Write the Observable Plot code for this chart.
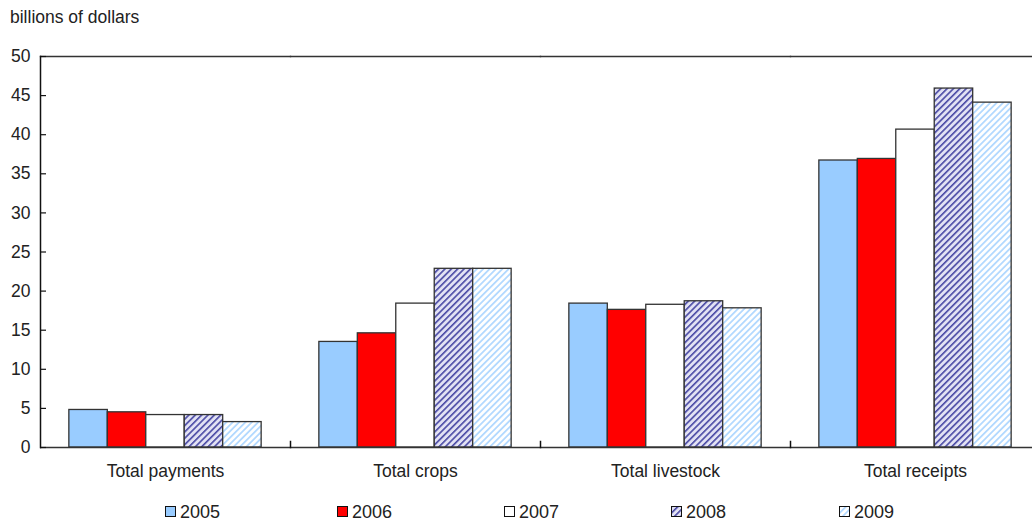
<!DOCTYPE html>
<html>
<head>
<meta charset="utf-8">
<script src="https://cdn.jsdelivr.net/npm/d3@7"></script>
<script src="https://cdn.jsdelivr.net/npm/@observablehq/plot@0.6"></script>
<style>
  html, body { margin: 0; padding: 0; background: #fff; }
  body { width: 1032px; height: 520px; overflow: hidden; font-family: "Liberation Sans", Arial, sans-serif; color: #222; }
  #title { height: 30px; box-sizing: border-box; padding: 7px 0 0 10px; font-size: 17.5px; line-height: 20px; }
  #legend { position: relative; height: 25px; font-size: 18px; }
  .item { position: absolute; top: 10px; height: 14px; display: flex; align-items: center; line-height: 14px; }
  .item svg { margin-right: 3px; }
</style>
</head>
<body>
<svg width="0" height="0" style="position:absolute">
  <defs>
    <pattern id="h2008" patternUnits="userSpaceOnUse" width="4.5" height="4.5" patternTransform="rotate(45)">
      <rect width="4.5" height="4.5" fill="#e2e2f4"></rect>
      <rect width="1.6" height="4.5" fill="#4848a4"></rect>
    </pattern>
    <pattern id="h2009" patternUnits="userSpaceOnUse" width="4.5" height="4.5" patternTransform="rotate(45)">
      <rect width="4.5" height="4.5" fill="#ffffff"></rect>
      <rect width="1.8" height="4.5" fill="#b3d9ff"></rect>
    </pattern>
  </defs>
</svg>
<div id="title">billions of dollars</div>
<div id="chart"></div>
<div id="legend"></div>
<script>
const categories = ["Total payments", "Total crops", "Total livestock", "Total receipts"];
const years = ["2005", "2006", "2007", "2008", "2009"];
const v2005 = [4.8, 13.5, 18.4, 36.7];
const v2006 = [4.5, 14.6, 17.6, 36.9];
const v2007 = [4.15, 18.4, 18.25, 40.65];
const v2008 = [4.15, 22.85, 18.7, 45.9];
const v2009 = [3.25, 22.85, 17.8, 44.1];
const yTicks = [0, 5, 10, 15, 20, 25, 30, 35, 40, 45, 50];
const fills = ["#99ccff", "#ff0000", "#ffffff", "url(#h2008)", "url(#h2009)"];

const series = [v2005, v2006, v2007, v2008, v2009];
const data = [];
categories.forEach((c, i) => years.forEach((y, j) => data.push({cat: c, year: y, value: series[j][i]})));

const W = 1032, H = 465, mT = 26, mB = 48, mL = 40, mR = -8;
const plotH = H - mT - mB;
const facetW = (W - mL - mR) / categories.length;

const chart = Plot.plot({
  width: W, height: H,
  marginLeft: mL, marginRight: mR, marginTop: mT, marginBottom: mB,
  style: {fontFamily: '"Liberation Sans", Arial, sans-serif', fontSize: "17.5px", color: "#222", background: "white", overflow: "visible"},
  fx: {domain: categories, padding: 0, label: null, axis: "bottom", tickSize: 0, tickPadding: 17},
  x: {domain: years, paddingInner: 0, paddingOuter: 0.75, axis: null, round: false},
  y: {domain: [0, 50], axis: null},
  color: {domain: years, range: fills, type: "ordinal"},
  marks: [
    Plot.barY(data, {fx: "cat", x: "year", y: "value", fill: "year", stroke: "#333", strokeWidth: 1.3}),
    Plot.frame({anchor: "top", stroke: "#333", strokeWidth: 1.3}),
    Plot.ruleY([0], {stroke: "#333", strokeWidth: 1.3}),
    Plot.frame({anchor: "left", facetAnchor: "left", stroke: "#111", strokeWidth: 1.5}),
    Plot.frame({anchor: "right", insetTop: plotH - 6, stroke: "#111", strokeWidth: 1.5}),
    Plot.ruleY(yTicks, {facetAnchor: "left", insetRight: facetW - 6, stroke: "#111", strokeWidth: 1.2}),
    Plot.axisY(yTicks, {anchor: "left", label: null, tickSize: 0, tickPadding: 10, fontSize: 17.5})
  ]
});
document.getElementById("chart").appendChild(chart);

const legend = document.getElementById("legend");
const legendX = [165, 337, 504, 671, 839];
years.forEach((y, j) => {
  const item = document.createElement("div");
  item.className = "item";
  item.style.left = legendX[j] + "px";
  item.innerHTML = `<svg width="12" height="12"><rect x="0.5" y="0.5" width="10" height="10" fill="${fills[j]}" stroke="#111" stroke-width="1"></rect></svg><span>${y}</span>`;
  legend.appendChild(item);
});
</script>
</body>
</html>
